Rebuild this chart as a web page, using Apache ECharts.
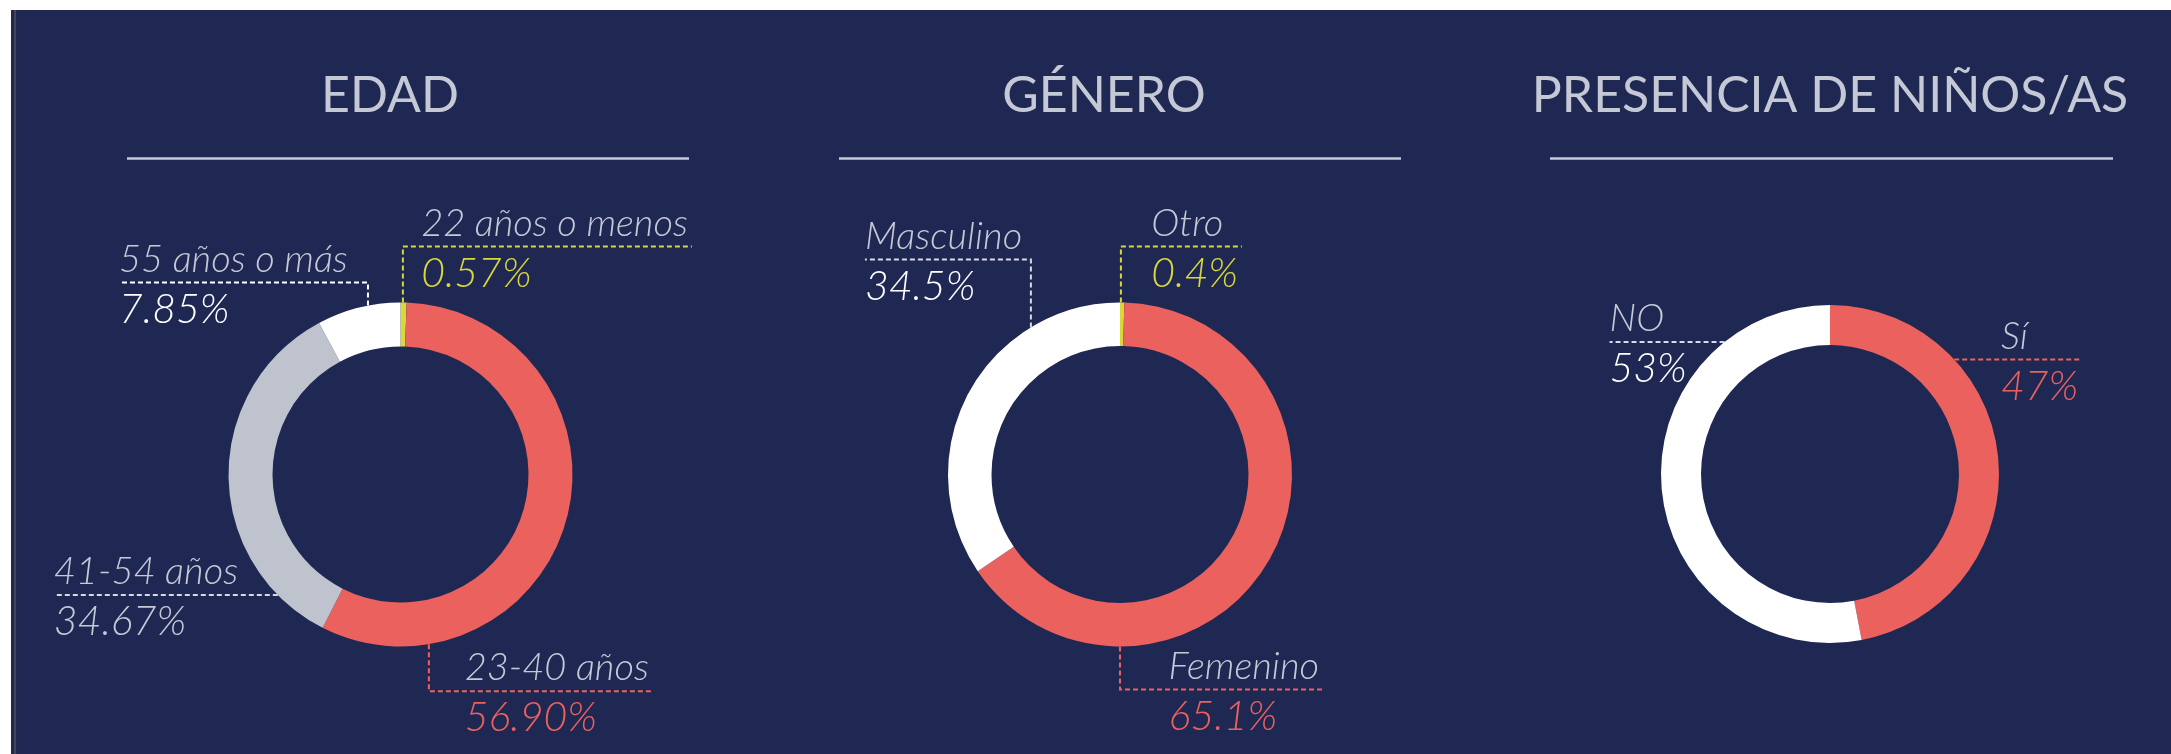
<!DOCTYPE html>
<html>
<head>
<meta charset="utf-8">
<script src="https://cdn.jsdelivr.net/npm/echarts@6/dist/echarts.min.js"></script>
<style>
    html, body { margin: 0; padding: 0; background: #fff; }
    #chart { width: 2171px; height: 754px; }
</style>
</head>
<body>
<div id="chart"></div>
<script>
// datos
var edadNames = ['22 años o menos', '23-40 años', '41-54 años', '55 años o más']
var edadValues = [0.57, 56.90, 34.67, 7.85]
var generoNames = ['Otro', 'Femenino', 'Masculino']
var generoValues = [0.4, 65.1, 34.5]
var ninosNames = ['Sí', 'NO']
var ninosValues = [47, 53]
var titles = ['EDAD', 'GÉNERO', 'PRESENCIA DE NIÑOS/AS']

// colores
var RED = '#eb615e', YEL = '#d8d83c', GRY = '#bfc3cd', WHT = '#ffffff', TXT = '#c5c9d6', BG = '#1f2853'

var NAME_LH = 46

// guias de etiquetas: angulo (desde arriba, horario), tramo vertical, tramo horizontal, lado
var leaders = [
    [{ a: 0.8, v: 56, h: 289, s: 1 }, { a: 170.5, v: 47, h: 224, s: 1 }, { a: 225.5, v: 0, h: 224, s: -1 }, { a: 349.1, v: 23, h: 249, s: -1 }],
    [{ a: 0.3, v: 56, h: 121, s: 1 }, { a: 180, v: 43, h: 203, s: 1 }, { a: 328.8, v: 68, h: 166, s: -1 }],
    [{ a: 47.3, v: 0, h: 128, s: 1 }, { a: 321.4, v: 0, h: 115, s: -1 }]
]

var centers = [[400.5, 474.5], [1120, 474.5], [1830, 474]]
var radii = [[128, 172], [128.5, 172], [129, 169]]

function makeSeries(idx, names, values, digits, sliceColors, lineColors, valueKeys) {
    var data = names.map(function (n, i) {
        return {
            name: n,
            value: values[i],
            itemStyle: { color: sliceColors[i] },
            labelLine: { lineStyle: { color: lineColors[i] } },
            label: { formatter: '{n|{b}}\n{' + valueKeys[i] + '|' + values[i].toFixed(digits) + '%}' }
        }
    })
    var valStyle = function (c) {
        return { color: c, fontSize: 41, lineHeight: 54, fontStyle: 'italic', fontWeight: 300, fontFamily: 'Lato' }
    }
    return {
        type: 'pie',
        center: centers[idx],
        radius: radii[idx],
        startAngle: 90,
        clockwise: true,
        avoidLabelOverlap: false,
        silent: true,
        label: {
            show: true,
            position: 'outside',
            rich: {
                n: { color: TXT, fontSize: 38, lineHeight: NAME_LH, fontStyle: 'italic', fontWeight: 300, fontFamily: 'Lato' },
                vy: valStyle(YEL),
                vr: valStyle(RED),
                vg: valStyle(TXT),
                vw: valStyle(WHT)
            }
        },
        labelLine: {
            show: true,
            lineStyle: { type: [5, 3], width: 2 }
        },
        labelLayout: function (p) {
            var c = centers[idx], r = radii[idx][1], k = leaders[idx][p.dataIndex]
            var ang = k.a * Math.PI / 180
            var x0 = c[0] + r * Math.sin(ang)
            var y0 = c[1] - r * Math.cos(ang)
            var y1 = y0 + (Math.cos(ang) > 0 ? -k.v : k.v)
            var x2 = x0 + k.s * k.h
            var w = p.labelRect.width
            return {
                x: k.s > 0 ? x2 - 4 - w : x2,
                y: y1 - NAME_LH,
                align: 'left',
                verticalAlign: 'top',
                labelLinePoints: [[x0, y0], [x0, y1], [x2, y1]]
            }
        },
        data: data
    }
}

var titleX = [390, 1104, 1830]
var lineX = [[127, 689], [839, 1401], [1550, 2113]]

var graphics = [
    { type: 'rect', z: -10, shape: { x: 11, y: 10, width: 2160, height: 744 }, style: { fill: BG } },
    { type: 'rect', z: -9, shape: { x: 14, y: 10, width: 2, height: 744 }, style: { fill: '#45474f' } }
]
titles.forEach(function (t, i) {
    graphics.push({
        type: 'text', z: 5,
        style: { text: t, x: titleX[i], y: 96, textAlign: 'center', textVerticalAlign: 'middle', fill: TXT, font: '400 50px Lato' }
    })
    graphics.push({
        type: 'line', z: 5,
        shape: { x1: lineX[i][0], y1: 158.5, x2: lineX[i][1], y2: 158.5 },
        style: { stroke: TXT, lineWidth: 2.5 }
    })
})

var myChart = echarts.init(document.getElementById('chart'))
myChart.setOption({
    animation: false,
    graphic: graphics,
    series: [
        makeSeries(0, edadNames, edadValues, 2, [YEL, RED, GRY, WHT], [YEL, RED, '#d6d9e2', WHT], ['vy', 'vr', 'vg', 'vw']),
        makeSeries(1, generoNames, generoValues, 1, [YEL, RED, WHT], [YEL, RED, '#d6d9e2'], ['vy', 'vr', 'vw']),
        makeSeries(2, ninosNames, ninosValues, 0, [RED, WHT], [RED, '#d6d9e2'], ['vr', 'vw'])
    ]
})
</script>
</body>
</html>
